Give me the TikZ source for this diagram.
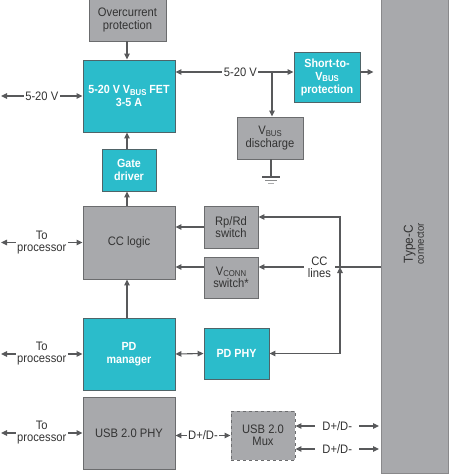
\documentclass[tikz,border=0pt]{standalone}
\usepackage{fontspec}
\setmainfont{Liberation Sans}[FakeStretch=0.91]
\usetikzlibrary{arrows.meta,calc}
\definecolor{tealf}{HTML}{2BBCCB}
\definecolor{tealb}{HTML}{4F6468}
\definecolor{grayf}{HTML}{A8A9AC}
\definecolor{grayb}{HTML}{6B6C6E}
\definecolor{linec}{HTML}{58595B}
\definecolor{txt}{HTML}{333333}
\tikzset{
  tri/.tip={Triangle[width=5.5pt,length=6pt]},
  conn/.style={draw=linec, line width=1.1pt, tri-tri},
  oneway/.style={draw=linec, line width=1.1pt, -tri},
  plain/.style={draw=linec, line width=1.1pt},
  tealbox/.style={draw=tealb, line width=0.9pt, fill=tealf, text=white, font=\bfseries\fontsize{11.8}{13}\selectfont, align=center, inner sep=0pt},
  graybox/.style={draw=grayb, line width=0.9pt, fill=grayf, text=txt, font=\fontsize{12.3}{12.5}\selectfont, align=center, inner sep=0pt},
  lbl/.style={fill=white, text=txt, font=\fontsize{12.3}{12}\selectfont, align=center, inner sep=1.5pt},
}
\begin{document}
\begin{tikzpicture}[x=1pt,y=-1pt]
\useasboundingbox (0,0) rectangle (449,475);
% boxes
\node[graybox, minimum width=77pt, minimum height=42pt] (oc) at (127.5,20) {Overcurrent\\protection};
\node[tealbox, minimum width=92pt, minimum height=72pt] (fet) at (129,96) {5-20 V V{\fontsize{8.5}{8}\selectfont\raisebox{-1.5pt}{BUS}} FET\\3-5 A};
\node[tealbox, minimum width=54pt, minimum height=42pt] (gate) at (129,170) {Gate\\driver};
\node[tealbox, minimum width=66pt, minimum height=50pt] (short) at (327,77) {Short-to-\\V{\fontsize{8.5}{8}\selectfont\raisebox{-1.5pt}{BUS}}\\protection};
\node[graybox, minimum width=66pt, minimum height=42pt] (vbd) at (270,138) {V{\fontsize{8.5}{8}\selectfont\raisebox{-1.5pt}{BUS}}\\discharge};
\node[graybox, draw=grayb!80, minimum width=67pt, minimum height=475pt] (type) at (414.5,236) {};
\node[rotate=90, text=txt, align=center, font=\fontsize{13}{11}\selectfont] (typetxt) at (414,244) {Type-C\\{\fontsize{10.5}{10}\selectfont connector}};
\node[graybox, minimum width=92pt, minimum height=73pt] (cc) at (129,242.5) {CC logic};
\node[graybox, minimum width=54pt, minimum height=42pt] (rprd) at (231,227) {Rp/Rd\\switch};
\node[graybox, minimum width=54pt, minimum height=41pt] (vconn) at (231,277.5) {V{\fontsize{8.5}{8}\selectfont\raisebox{-1.5pt}{CONN}}\\switch*};
\node[tealbox, minimum width=65pt, minimum height=51pt] (pdphy) at (236.5,353.5) {PD PHY};
\node[tealbox, minimum width=92pt, minimum height=72pt] (pdm) at (129,354) {PD\\manager};
\node[graybox, minimum width=92pt, minimum height=72pt] (usb) at (129,433) {USB 2.0 PHY};
\node[graybox, dashed, minimum width=64pt, minimum height=49pt] (mux) at (263,435.5) {USB 2.0\\Mux};
% coordinates
\coordinate (vin) at (1,96);
\coordinate (vbus) at (272,72);
\coordinate (gnd) at (271,177);
\coordinate (jn) at (340,267);
\coordinate (rptop) at (340,217);
\coordinate (p1) at (1,242.5);
\coordinate (p2) at (1,354);
\coordinate (p3) at (1,433);
\coordinate (d1) at (379,426);
\coordinate (d2) at (379,449);
% power path
\draw[oneway] (oc.south -| 127,0) -- (fet.north -| 127,0);
\draw[conn] (vin) -- node[lbl] {5-20 V} (fet.west);
\draw[conn] (fet.east |- vbus) -- node[lbl, pos=0.55] (vlab) {5-20 V} (short.west |- vbus);
\draw[oneway] (vbus) -- (vbd.north -| vbus);
\draw[oneway, shorten >=7pt] (short.east |- vbus) -- (type.west |- vbus);
\draw[draw=linec, line width=1.1pt] (vbd.south -| gnd) -- (gnd);
\draw[draw=linec, line width=1.1pt] ($(gnd)+(-9,0)$) -- ($(gnd)+(9,0)$);
\draw[draw=linec!70, line width=0.9pt] ($(gnd)+(-6,3)$) -- ($(gnd)+(6,3)$);
\draw[draw=linec!50, line width=0.8pt] ($(gnd)+(-3,6)$) -- ($(gnd)+(3,6)$);
\draw[oneway] (gate.north -| 127,0) -- (fet.south -| 127,0);
\draw[oneway] (cc.north -| 127,0) -- (gate.south -| 127,0);
\draw[oneway] (pdm.north -| 127,0) -- (cc.south -| 127,0);
% CC
\draw[oneway] (rprd.west) -- (cc.east |- rprd.west);
\draw[oneway] (vconn.west |- jn) -- (cc.east |- jn);
\draw[oneway] (type.west |- jn) -- node[lbl, pos=0.5, inner xsep=4pt] (cclab) {CC\\lines} (vconn.east |- jn);
\draw[conn] (pdphy.east) -| (jn);
\draw[oneway] (jn) -- (rptop) -- (rprd.east |- rptop);
\draw[conn] (pdm.east) -- (pdphy.west);
% processor
\draw[conn] (p1) -- node[lbl, pos=0.5] {To\\processor} (cc.west |- p1);
\draw[conn] (p2) -- node[lbl, pos=0.5] {To\\processor} (pdm.west |- p2);
\draw[conn] (p3) -- node[lbl, pos=0.5] {To\\processor} (usb.west |- p3);
% USB
\draw[conn] (usb.east |- mux.west) -- node[lbl] {D+/D-} (mux.west);
\draw[conn] (mux.east |- d1) -- node[lbl, inner xsep=7pt] {D+/D-} (d1);
\draw[conn] (mux.east |- d2) -- node[lbl, inner xsep=7pt] {D+/D-} (d2);
\end{tikzpicture}
\end{document}
